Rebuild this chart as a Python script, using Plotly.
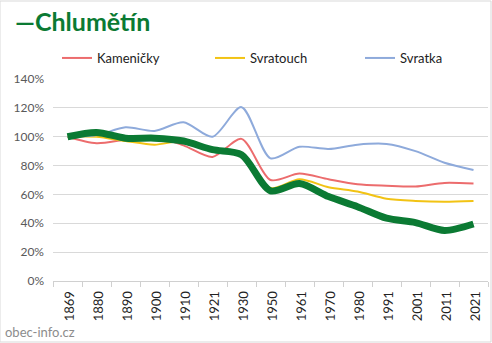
import plotly.graph_objects as go

years = ["1869", "1880", "1890", "1900", "1910", "1921", "1930", "1950", "1961", "1970", "1980", "1991", "2001", "2011", "2021"]
kamenicky = [100, 95.5, 98, 100, 94, 86, 98.5, 70, 74.5, 70.5, 67, 66, 65.5, 68, 67.5]
svratouch = [100, 100, 97, 94.5, 97, 92, 87, 64.5, 70.5, 65, 62, 57, 55.5, 55, 55.5]
svratka = [100, 101, 106.5, 104, 110, 100, 120.5, 85, 93, 91.5, 94.5, 95, 90, 82, 77]
chlumetin = [100, 103, 99, 99, 97, 91, 87.5, 62.5, 67.5, 58.5, 51.5, 43.5, 40.5, 35, 39.5]

FONT = "Lato"
fig = go.Figure()
legends = ["legend", "legend2", "legend3"]
for i, (name, vals, col) in enumerate([("Kameničky", kamenicky, "#ec6c6d"),
                                       ("Svratouch", svratouch, "#f2c314"),
                                       ("Svratka", svratka, "#8eaadb")]):
    fig.add_trace(go.Scatter(x=years, y=[v / 100 for v in vals], name=name, mode="lines",
                             legend=legends[i],
                             line=dict(color=col, width=2, shape="spline", smoothing=0.8)))
fig.add_trace(go.Scatter(x=years, y=[v / 100 for v in chlumetin], name="Chlumětín", mode="lines",
                         showlegend=False,
                         line=dict(color="#0b7a33", width=7, shape="spline", smoothing=0.8)))

def leg(xpx):
    return dict(x=(xpx - 53) / 435, xanchor="left", y=1 + (281 - 58) / 202 - 1, yanchor="middle",
                font=dict(size=13, color="#222", family=FONT), itemwidth=30,
                bgcolor="rgba(0,0,0,0)")

fig.update_layout(
    width=492, height=343,
    margin=dict(l=53, r=4, t=79, b=62),
    paper_bgcolor="white", plot_bgcolor="white",
    font=dict(family=FONT, color="#595959"),
    title=dict(text="<b>—Chlumětín</b>", x=15 / 492, xanchor="left", y=1 - 22 / 343, yanchor="middle",
               font=dict(size=25, color="#0b7a33", family=FONT)),
    legend=leg(57),
    legend2=leg(210),
    legend3=leg(360),
    xaxis=dict(type="category", range=[-0.5, 14.5], tickangle=-89.5, tickson="boundaries",
               ticks="outside", ticklen=5, tickcolor="#d0d0d0", showline=True, linecolor="#d0d0d0",
               showgrid=False, tickfont=dict(size=13, color="#222", family=FONT)),
    yaxis=dict(range=[0, 1.4], dtick=0.2, tickformat=".0%", showgrid=True, gridcolor="#d9d9d9",
               zeroline=False, tickfont=dict(size=12, color="#595959", family=FONT), ticklen=0, ticks="",
               ticklabelstandoff=8),
    shapes=[dict(type="rect", xref="paper", yref="paper", x0=-53/435, x1=1+3/435, y0=-61/202, y1=1+78/202,
                 line=dict(color="#d9d9d9", width=1))],
    annotations=[dict(text="obec-info.cz", xref="paper", yref="paper", x=-50/435, y=-51/202,
                      xanchor="left", yanchor="middle", showarrow=False,
                      font=dict(size=13, color="#8c8c8c", family=FONT))],
)
fig.write_html("out.html")
